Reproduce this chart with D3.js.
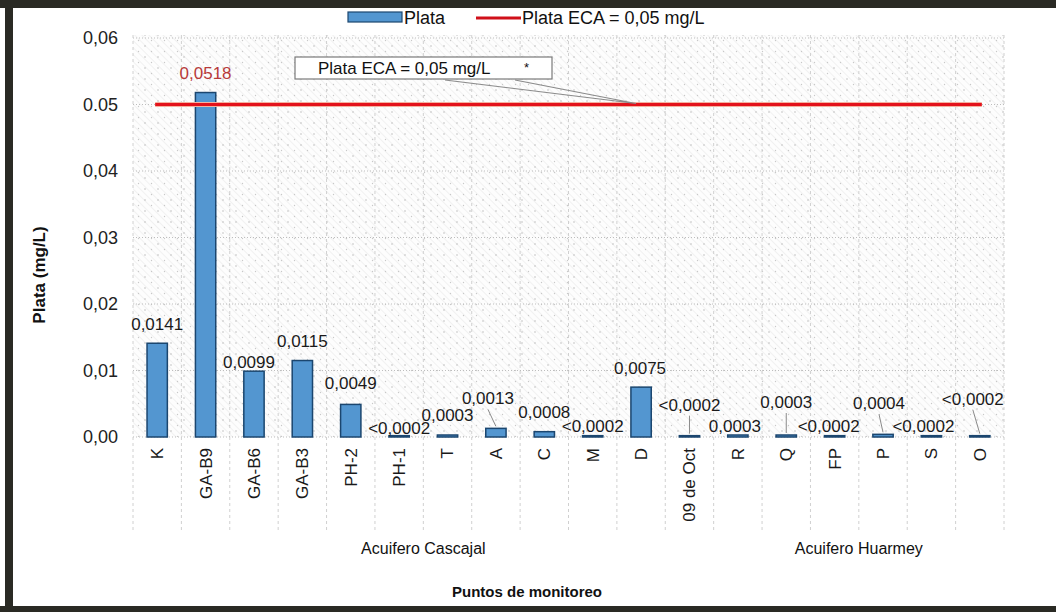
<!DOCTYPE html>
<html><head><meta charset="utf-8">
<script src="https://cdn.jsdelivr.net/npm/d3@7"></script>
<style>
html,body{margin:0;padding:0;background:#fff;}
svg{display:block;font-family:"Liberation Sans",Arial,sans-serif;}
</style></head>
<body>
<svg id="chart" width="1056" height="612"></svg>
<script>
const categories = ["K","GA-B9","GA-B6","GA-B3","PH-2","PH-1","T","A","C","M","D","09 de Oct","R","Q","FP","P","S","O"];
const values = [0.0141,0.0518,0.0099,0.0115,0.0049,0.0002,0.0003,0.0013,0.0008,0.0002,0.0075,0.0002,0.0003,0.0003,0.0002,0.0004,0.0002,0.0002];
const valueLabels = ["0,0141","0,0518","0,0099","0,0115","0,0049","<0,0002","0,0003","0,0013","0,0008","<0,0002","0,0075","<0,0002","0,0003","0,0003","<0,0002","0,0004","<0,0002","<0,0002"];
const yTicks = [0,0.01,0.02,0.03,0.04,0.05,0.06];
const yTickLabels = ["0,00","0,01","0,02","0,03","0,04","0.05","0,06"];
const groups = [{name:"Acuifero Cascajal", from:"K", to:"09 de Oct"},{name:"Acuifero Huarmey", from:"R", to:"O"}];
const ecaValue = 0.05;
const seriesName = "Plata";
const ecaName = "Plata ECA = 0,05 mg/L";
// label layout (dx, dy from bar top, leader line)
const labelDx = [0,0,-5,0,0,0,0,-8,0,0,-1,0,-3,0,-6,-4,-8,-7];
const labelDy = [-13,-13.5,-3,-13.5,-15,-2,-14,-24,-14,-4,-13,-25,-3,-27,-4,-25,-4,-31];
const leader = [0,0,0,0,0,0,0,1,0,0,0,1,0,1,0,1,0,1];

const svg = d3.select("#chart");
const defs = svg.append("defs");
const hatch = defs.append("pattern").attr("id","hatch").attr("patternUnits","userSpaceOnUse")
  .attr("width",5).attr("height",5).attr("patternTransform","rotate(-45)");
hatch.append("rect").attr("width",5).attr("height",5).attr("fill","#fdfdfd");
hatch.append("line").attr("x1",0).attr("y1",0).attr("x2",0).attr("y2",5).attr("stroke","#dedede").attr("stroke-width",0.8);
const dots = defs.append("pattern").attr("id","dots").attr("patternUnits","userSpaceOnUse")
  .attr("width",13).attr("height",11);
dots.append("circle").attr("cx",2).attr("cy",2).attr("r",0.8).attr("fill","#bdbdbd");
dots.append("circle").attr("cx",8.5).attr("cy",7.5).attr("r",0.7).attr("fill","#c8c8c8");

// frame
svg.append("rect").attr("x",0).attr("y",0).attr("width",1056).attr("height",8).attr("fill","#2a2a24");
svg.append("rect").attr("x",5).attr("y",0).attr("width",8).attr("height",612).attr("fill","#2a2a24");
svg.append("rect").attr("x",0).attr("y",606).attr("width",1056).attr("height",6).attr("fill","#2a2a24");

const pLeft = 133, pRight = 1004, pTop = 38, pBottom = 437;
const x = d3.scaleBand().domain(categories).range([pLeft,pRight]).padding(0);
const y = d3.scaleLinear().domain([0,0.06]).range([pBottom,pTop]);
const bw = x.bandwidth()*0.42;
const cx = c => x(c)+x.bandwidth()/2;

// plot background
svg.append("rect").attr("x",pLeft).attr("y",pTop-3).attr("width",pRight-pLeft).attr("height",pBottom-pTop+3).attr("fill","url(#hatch)");
svg.append("rect").attr("x",pLeft).attr("y",pTop-3).attr("width",pRight-pLeft).attr("height",pBottom-pTop+3).attr("fill","url(#dots)");

// horizontal gridlines
svg.append("g").selectAll("line").data(yTicks).join("line")
  .attr("x1",pLeft).attr("x2",pRight).attr("y1",d=>y(d)).attr("y2",d=>y(d))
  .attr("stroke","#bdbdbd").attr("stroke-width",1).attr("stroke-dasharray","1,2");
// vertical separators
svg.append("g").selectAll("line").data(d3.range(categories.length+1)).join("line")
  .attr("x1",i=>pLeft+i*x.step()).attr("x2",i=>pLeft+i*x.step())
  .attr("y1",pTop-3).attr("y2",530)
  .attr("stroke","#d0d0d0").attr("stroke-width",1).attr("stroke-dasharray","3,3");

// y axis labels
const yAxis = d3.axisLeft(y).tickValues(yTicks).tickFormat((d,i)=>yTickLabels[i]).tickSize(0).tickPadding(15);
const ga = svg.append("g").attr("transform",`translate(${pLeft},0)`).call(yAxis);
ga.select(".domain").remove();
ga.selectAll("text").attr("font-size",18).attr("fill","#222").attr("font-family","Liberation Sans, Arial, sans-serif");

// bars
svg.append("g").selectAll("rect").data(values).join("rect")
  .attr("x",(d,i)=>cx(categories[i])-bw/2).attr("width",bw)
  .attr("y",d=>y(d)).attr("height",d=>pBottom-y(d))
  .attr("fill","#5396d0").attr("stroke","#1b466f").attr("stroke-width",1.5);

// ECA line
svg.append("line").attr("x1",cx(categories[0])-2).attr("x2",cx(categories[categories.length-1])+2)
  .attr("y1",y(ecaValue)).attr("y2",y(ecaValue)).attr("stroke","#f4b2a0").attr("stroke-width",5);
svg.append("line").attr("x1",cx(categories[0])-2).attr("x2",cx(categories[categories.length-1])+2)
  .attr("y1",y(ecaValue)).attr("y2",y(ecaValue)).attr("stroke","#e3121b").attr("stroke-width",3);

// callout
const cxA = 636;
svg.append("path").attr("d",`M445,80 L${cxA},${y(ecaValue)-1} L515,80`).attr("fill","none").attr("stroke","#8a8a8a").attr("stroke-width",1.2);
svg.append("rect").attr("x",295).attr("y",57).attr("width",257).attr("height",22).attr("fill","#fff").attr("stroke","#7a7a7a").attr("stroke-width",1.2);
svg.append("text").attr("x",318).attr("y",74).attr("font-size",17).attr("fill","#111").text(ecaName);
svg.append("text").attr("x",524).attr("y",72).attr("font-size",13).attr("fill","#111").text("*");

// value labels
svg.append("g").selectAll("text").data(values).join("text")
  .attr("x",(d,i)=>cx(categories[i])+labelDx[i])
  .attr("y",(d,i)=>y(d)+labelDy[i])
  .attr("text-anchor","middle").attr("font-size",17)
  .attr("fill",(d,i)=>d>ecaValue?"#b83a3a":"#1a1a1a")
  .text((d,i)=>valueLabels[i]);
svg.append("g").selectAll("line").data(values.map((v,i)=>i).filter(i=>leader[i])).join("line")
  .attr("x1",i=>cx(categories[i])+labelDx[i]).attr("y1",i=>y(values[i])+labelDy[i]+5)
  .attr("x2",i=>cx(categories[i])).attr("y2",i=>y(values[i])-2)
  .attr("stroke","#8a8a8a").attr("stroke-width",1);

// x labels
svg.append("g").selectAll("text").data(categories).join("text")
  .attr("transform",d=>`translate(${cx(d)},448) rotate(-90)`)
  .attr("text-anchor","end").attr("dy","0.35em")
  .attr("font-size",17).attr("fill","#1a1a1a").text(d=>d);

// group labels
svg.append("g").selectAll("text").data(groups).join("text")
  .attr("x",g=>(cx(g.from)+cx(g.to))/2).attr("y",554)
  .attr("text-anchor","middle").attr("font-size",16).attr("fill","#111")
  .attr("font-family","Liberation Sans Narrow, Liberation Sans, Arial, sans-serif")
  .text(g=>g.name);

// axis titles
svg.append("text").attr("x",527).attr("y",597).attr("text-anchor","middle")
  .attr("font-size",15).attr("font-weight","bold").attr("fill","#111").text("Puntos de monitoreo");
svg.append("text").attr("transform","translate(45,275) rotate(-90)").attr("text-anchor","middle")
  .attr("font-size",17).attr("font-weight","bold").attr("fill","#111").text("Plata (mg/L)");

// legend
svg.append("rect").attr("x",348).attr("y",12).attr("width",54).attr("height",10).attr("fill","#5396d0").attr("stroke","#1b466f").attr("stroke-width",1.2);
svg.append("text").attr("x",404).attr("y",24).attr("font-size",18).attr("fill","#111").text(seriesName);
svg.append("line").attr("x1",476).attr("x2",521).attr("y1",18).attr("y2",18).attr("stroke","#d0101a").attr("stroke-width",3);
svg.append("text").attr("x",522).attr("y",24).attr("font-size",18).attr("fill","#111").text(ecaName);
</script>
</body></html>
